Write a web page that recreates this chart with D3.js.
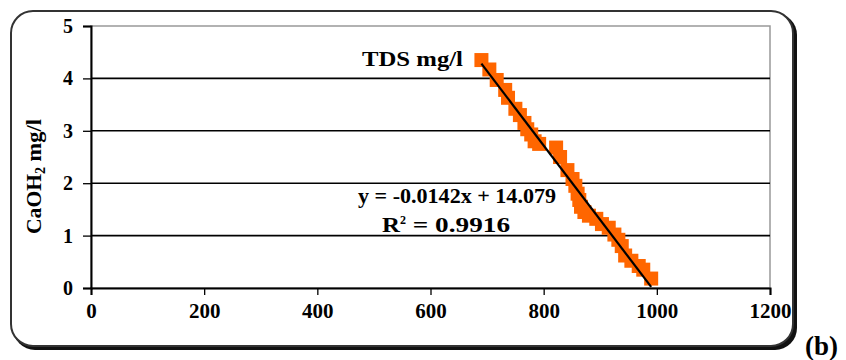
<!DOCTYPE html>
<html>
<head>
<meta charset="utf-8">
<script type="text/javascript" src="https://d3js.org/d3.v7.min.js"></script>
<style>
  body { margin: 0; background: #fff; }
  svg text { font-family: "Liberation Serif", "DejaVu Serif", serif !important; font-weight: bold; }
</style>
</head>
<body>
<div id="viz"></div>
<script type="text/javascript">

// TDS (mg/l) vs CaOH2 (mg/l)
var tds  = [690, 704, 717, 732, 737, 750, 758, 766, 771, 778, 784, 792,
            822, 829, 842, 851, 856, 860, 863, 866, 872, 880, 893,
            903, 915, 925, 932, 938, 944, 955, 968, 976, 990];
var caoh = [4.35, 4.17, 3.97, 3.78, 3.63, 3.42, 3.30, 3.15, 3.03, 2.93, 2.80, 2.75,
            2.68, 2.50, 2.25, 2.08, 1.95, 1.80, 1.68, 1.55, 1.45, 1.38, 1.32,
            1.22, 1.15, 1.02, 0.92, 0.80, 0.62, 0.52, 0.42, 0.35, 0.18];
var xTicks = [0, 200, 400, 600, 800, 1000, 1200];
var yTicks = [0, 1, 2, 3, 4, 5];
var slope = -0.0142, intercept = 14.079;

var svg = d3.select("#viz").append("svg")
    .attr("width", 846)
    .attr("height", 360);

// rounded frame with shadow
svg.append("rect")
    .attr("x", 13).attr("y", 13)
    .attr("width", 784).attr("height", 337)
    .attr("rx", 22)
    .style("fill", "#111");
svg.append("rect")
    .attr("x", 11).attr("y", 11)
    .attr("width", 782).attr("height", 335)
    .attr("rx", 22)
    .style("fill", "white")
    .style("stroke", "#333")
    .style("stroke-width", 2);

var x = d3.scaleLinear().domain([0, 1200]).range([91, 770]);
var y = d3.scaleLinear().domain([0, 5]).range([288, 26]);

// plot border
svg.append("rect")
    .attr("x", x(0)).attr("y", y(5))
    .attr("width", x(1200) - x(0)).attr("height", y(0) - y(5))
    .style("fill", "none")
    .style("stroke", "#999")
    .style("stroke-width", 1.5);

// gridlines
svg.selectAll("line.grid")
    .data(yTicks.filter(function(d){ return d > 0 && d < 5; }))
    .enter().append("line")
    .attr("class", "grid")
    .attr("x1", x(0)).attr("x2", x(1200))
    .attr("y1", function(d){ return y(d); })
    .attr("y2", function(d){ return y(d); })
    .style("stroke", "#000")
    .style("stroke-width", 1.6);

var xAxis = svg.append("g")
    .attr("transform", "translate(0," + y(0) + ")")
    .call(d3.axisBottom(x).tickValues(xTicks).tickFormat(d3.format("d")).tickSize(7).tickPadding(9));
var yAxis = svg.append("g")
    .attr("transform", "translate(" + x(0) + ",0)")
    .call(d3.axisLeft(y).tickValues(yTicks).tickFormat(d3.format("d")).tickSize(8).tickPadding(10));

[xAxis, yAxis].forEach(function(a){
    a.attr("font-family", null).attr("font-size", 20);
    a.select(".domain").style("stroke", "#000").style("stroke-width", 2);
    a.selectAll(".tick line").style("stroke", "#000").style("stroke-width", 1.3);
    a.selectAll(".tick text")
        .style("font-size", "20px")
        .style("fill", "#000");
});
xAxis.selectAll(".tick text")
    .attr("textLength", function(d){ return String(d).length * 10.5; })
    .attr("lengthAdjust", "spacingAndGlyphs");

// markers
svg.selectAll("rect.pt")
    .data(d3.zip(tds, caoh))
    .enter().append("rect")
    .attr("class", "pt")
    .attr("x", function(d){ return x(d[0]) - 7; })
    .attr("y", function(d){ return y(d[1]) - 7; })
    .attr("width", 14).attr("height", 14)
    .style("fill", "#ff6600");

// linear trendline
var xr = d3.extent(tds);
svg.append("line")
    .attr("x1", x(xr[0])).attr("y1", y(slope * xr[0] + intercept))
    .attr("x2", x(xr[1])).attr("y2", y(slope * xr[1] + intercept))
    .style("stroke", "#000")
    .style("stroke-width", 2.2);

// labels (reference text is stretched sideways, so fit to measured widths)
svg.append("text")
    .attr("x", 362).attr("y", 66)
    .attr("textLength", 101).attr("lengthAdjust", "spacingAndGlyphs")
    .style("font-size", "20px")
    .text("TDS mg/l");

svg.append("text")
    .attr("x", 358).attr("y", 203)
    .attr("textLength", 198).attr("lengthAdjust", "spacingAndGlyphs")
    .style("font-size", "20px")
    .text("y = -0.0142x + 14.079");

var r2 = svg.append("text")
    .attr("x", 382).attr("y", 232)
    .style("font-size", "20px");
r2.append("tspan").attr("textLength", 18).attr("lengthAdjust", "spacingAndGlyphs").text("R");
r2.append("tspan").attr("dy", -8).style("font-size", "12px").text("2");
r2.append("tspan").attr("dy", 8).attr("textLength", 104).attr("lengthAdjust", "spacingAndGlyphs").text(" = 0.9916");

var yt = svg.append("text")
    .attr("transform", "translate(41,234) rotate(-90)")
    .style("font-size", "21px");
yt.append("tspan").attr("textLength", 60).attr("lengthAdjust", "spacingAndGlyphs").text("CaOH");
yt.append("tspan").attr("dy", 4).style("font-size", "14px").text("2");
yt.append("tspan").attr("dy", -4).attr("textLength", 48).attr("lengthAdjust", "spacingAndGlyphs").text(" mg/l");

svg.append("text")
    .attr("x", 805).attr("y", 355)
    .style("font-size", "27px")
    .text("(b)");

</script>
</body>
</html>
